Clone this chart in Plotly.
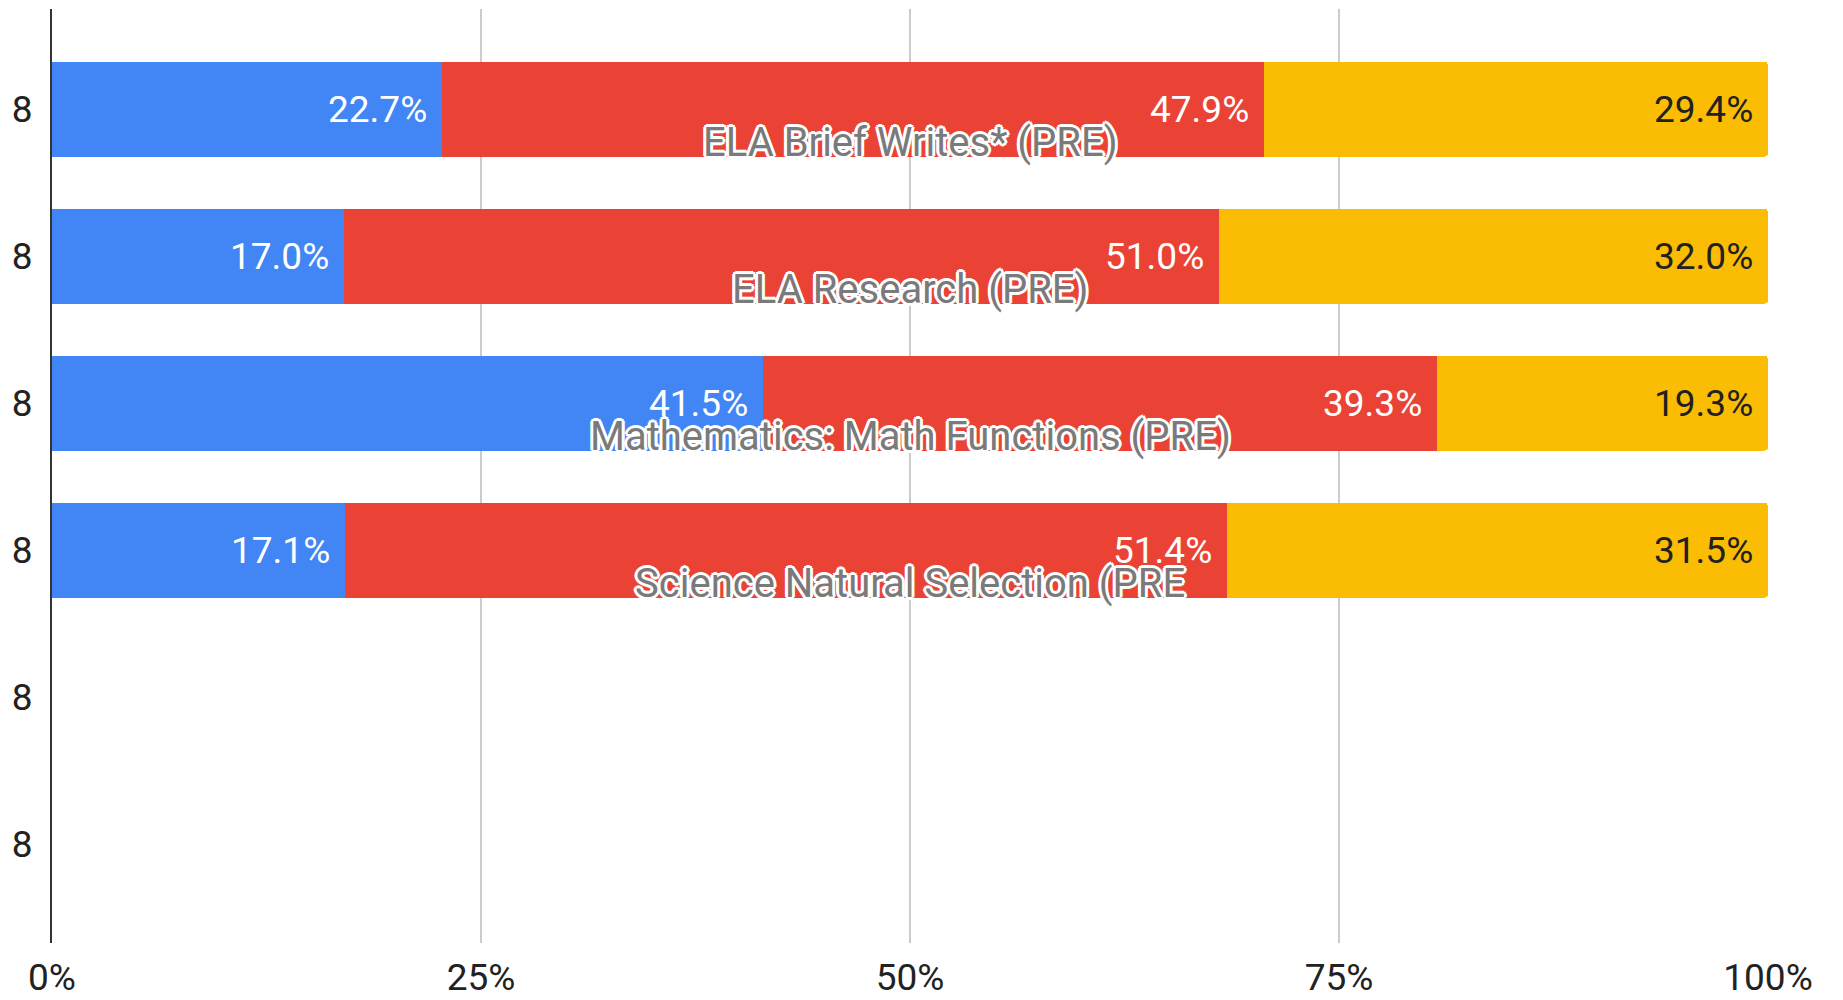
import plotly.graph_objects as go

tick_labels = ["8", "8", "8", "8", "8", "8"]
courses = [
    "ELA Brief Writes* (PRE)",
    "ELA Research (PRE)",
    "Mathematics: Math Functions (PRE)",
    "Science Natural Selection (PRE",
]
blue_vals = [22.7, 17.0, 41.5, 17.1]
red_vals = [47.9, 51.0, 39.3, 51.4]
yellow_vals = [29.4, 32.0, 19.3, 31.5]

series = [
    ("Series 1", blue_vals, "#4285F4", "#FFFFFF"),
    ("Series 2", red_vals, "#EA4335", "#FFFFFF"),
    ("Series 3", yellow_vals, "#FBBC04", "#212121"),
]

ypos = list(range(len(courses)))
totals = [b + r + y for b, r, y in zip(blue_vals, red_vals, yellow_vals)]

fig = go.Figure()
annotations = []
cum = [0.0] * len(courses)
for name, vals, color, tcolor in series:
    frac = [v / t for v, t in zip(vals, totals)]
    fig.add_trace(go.Bar(
        name=name, x=frac, y=ypos, orientation="h",
        marker=dict(color=color, line=dict(width=0)),
        width=0.646, hoverinfo="skip",
    ))
    for i, f in enumerate(frac):
        cum[i] += f
        annotations.append(dict(
            x=cum[i], y=ypos[i], xref="x", yref="y",
            text=f"{vals[i]:.1f}%", showarrow=False,
            xanchor="right", yanchor="middle", xshift=-13,
            font=dict(family="Roboto", size=37, color=tcolor),
        ))

outline = ",".join(
    f"{dx}px {dy}px 0px white"
    for dx, dy in [(-2, -2), (2, -2), (-2, 2), (2, 2), (0, 3), (0, -3), (3, 0), (-3, 0)]
)
for i, c in enumerate(courses):
    annotations.append(dict(
        x=0.5, y=ypos[i], xref="x", yref="y", yshift=-33,
        text=c, showarrow=False, xanchor="center", yanchor="middle",
        font=dict(family="Roboto", size=40, color="#7a7a7a", shadow=outline),
    ))

fig.update_layout(
    barmode="stack",
    barcornerradius=4,
    width=1843, height=1000,
    margin=dict(l=52, r=75, t=9, b=57),
    paper_bgcolor="white", plot_bgcolor="white",
    showlegend=False,
    annotations=annotations,
    font=dict(family="Roboto", size=36, color="#222222"),
)
fig.update_xaxes(
    range=[0, 1], tickvals=[0, 0.25, 0.5, 0.75, 1.0],
    ticktext=["0%", "25%", "50%", "75%", "100%"],
    showgrid=True, gridcolor="#CCCCCC", gridwidth=2,
    zeroline=False, showline=False, ticks="",
    ticklabelstandoff=9, automargin=False,
    tickfont=dict(family="Roboto", size=37, color="#222222"),
)
fig.update_yaxes(
    range=[5.673, -0.682], tickvals=list(range(len(tick_labels))),
    ticktext=tick_labels, showgrid=False, zeroline=False,
    showline=True, linecolor="#333333", linewidth=2, ticks="",
    ticklabelstandoff=10, automargin=False,
    tickfont=dict(family="Roboto", size=37, color="#222222"),
)

fig.write_html("out.html")
